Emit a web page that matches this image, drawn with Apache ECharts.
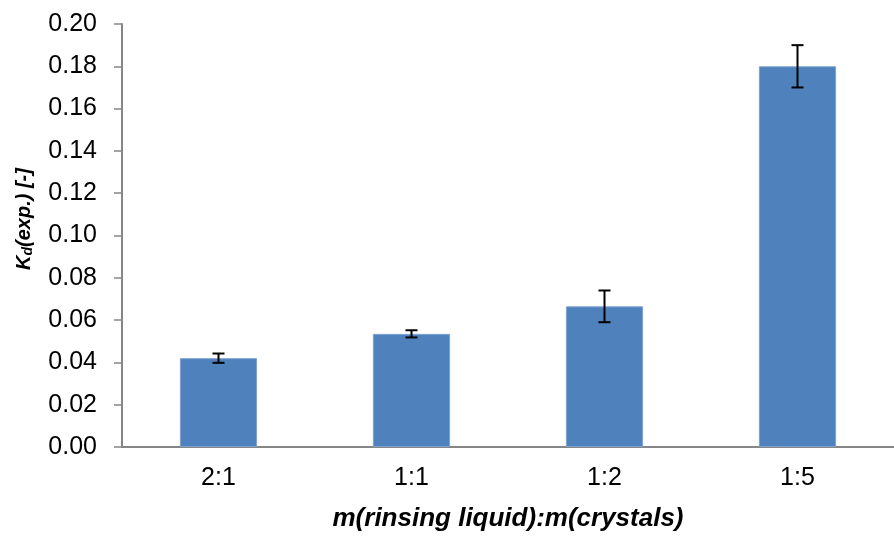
<!DOCTYPE html>
<html>
<head>
<meta charset="utf-8">
<script src="https://cdn.jsdelivr.net/npm/echarts@6/dist/echarts.min.js"></script>
<style>
  html, body { margin: 0; padding: 0; background: #fff; }
  #chart { width: 894px; height: 537px; }
</style>
</head>
<body>
<div id="chart"></div>
<script>
// Mass ratio of rinsing liquid to crystals
const categories = ['2:1', '1:1', '1:2', '1:5'];
// Experimental distribution coefficient Kd
const kdValues = [0.042, 0.0535, 0.0665, 0.18];
// Standard deviation (± error bar half-height)
const kdErrors = [0.0022, 0.0017, 0.0075, 0.010];
// Y-axis range and step
const yMin = 0, yMax = 0.20, yStep = 0.02;

const errorData = categories.map((c, i) => [i, kdValues[i] - kdErrors[i], kdValues[i] + kdErrors[i]]);

const chart = echarts.init(document.getElementById('chart'), null, { renderer: 'canvas' });
const axisGray = '#868686';
const font = '"Liberation Sans", Arial, sans-serif';

chart.setOption({
  animation: false,
  backgroundColor: '#ffffff',
  grid: { left: 122, top: 24, right: -13, bottom: 84, containLabel: false },
  xAxis: {
    type: 'category',
    data: categories,
    name: 'm(rinsing liquid):m(crystals)',
    nameLocation: 'middle',
    nameGap: 59,
    nameTextStyle: { fontFamily: font, fontSize: 26, fontWeight: 'bold', fontStyle: 'italic', color: '#000' },
    axisLine: { lineStyle: { color: axisGray, width: 2 } },
    axisTick: { show: false },
    axisLabel: { margin: 19, fontFamily: font, fontSize: 25, color: '#000' },
    splitLine: { show: false }
  },
  yAxis: {
    type: 'value',
    min: yMin,
    max: yMax,
    interval: yStep,
    axisLine: { show: true, lineStyle: { color: axisGray, width: 2 } },
    axisTick: { show: true, length: 8, lineStyle: { color: axisGray, width: 1.5 } },
    axisLabel: {
      margin: 25,
      fontFamily: font,
      fontSize: 25,
      color: '#000',
      formatter: v => v.toFixed(2)
    },
    splitLine: { show: false }
  },
  graphic: [{
    type: 'text',
    x: 24,
    y: 219,
    rotation: Math.PI / 2,
    style: {
      text: '{k|K}{d|d}{k|(exp.) [-]}',
      align: 'center',
      verticalAlign: 'middle',
      fill: '#000',
      rich: {
        k: { fontFamily: font, fontSize: 20, fontWeight: 'bold', fontStyle: 'italic', fill: '#000' },
        d: { fontFamily: font, fontSize: 14, fontWeight: 'bold', fontStyle: 'italic', fill: '#000', verticalAlign: 'bottom', padding: [8, 0, 0, 0] }
      }
    }
  }],
  series: [
    {
      type: 'bar',
      data: kdValues,
      barWidth: '40%',
      itemStyle: { color: '#4F81BD', borderColor: '#7EA3D1', borderWidth: 1 }
    },
    {
      type: 'custom',
      data: errorData,
      encode: { x: 0, y: [1, 2] },
      z: 10,
      clip: false,
      renderItem: function (params, api) {
        const x = api.value(0);
        const low = api.coord([x, api.value(1)]);
        const high = api.coord([x, api.value(2)]);
        const half = 6;
        const style = { stroke: '#000', lineWidth: 2 };
        return {
          type: 'group',
          children: [
            { type: 'line', shape: { x1: high[0], y1: high[1], x2: low[0], y2: low[1] }, style },
            { type: 'line', shape: { x1: high[0] - half, y1: high[1], x2: high[0] + half, y2: high[1] }, style },
            { type: 'line', shape: { x1: low[0] - half, y1: low[1], x2: low[0] + half, y2: low[1] }, style }
          ]
        };
      }
    }
  ]
});
</script>
</body>
</html>
